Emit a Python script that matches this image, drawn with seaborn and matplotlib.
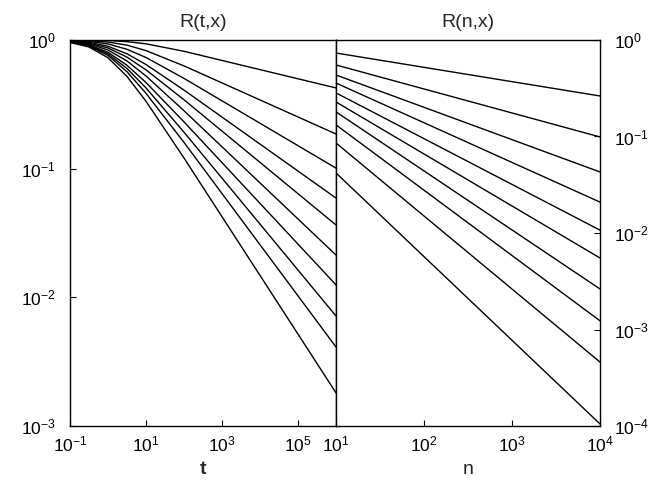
import matplotlib
matplotlib.use('Agg')
import matplotlib.pyplot as plt
import numpy as np
import pandas as pd
import seaborn as sns

sns.set_style('ticks')
plt.rcParams['font.family'] = ['Liberation Sans', 'DejaVu Sans']
plt.rcParams['mathtext.fontset'] = 'custom'
plt.rcParams['mathtext.rm'] = 'Liberation Sans'
plt.rcParams['mathtext.it'] = 'Liberation Sans:italic'
plt.rcParams['mathtext.bf'] = 'Liberation Sans:bold'

# left panel: R(t,x), one row per curve, values read at t_vals
t_vals = [0.1, 0.316, 1, 3.16, 10, 100, 1e6]
r_tx = [
    [0.999, 0.997, 0.990, 0.971, 0.934, 0.817, 0.424],
    [0.996, 0.987, 0.964, 0.912, 0.827, 0.629, 0.186],
    [0.992, 0.975, 0.932, 0.847, 0.731, 0.503, 0.101],
    [0.986, 0.959, 0.894, 0.781, 0.645, 0.408, 0.0591],
    [0.982, 0.947, 0.867, 0.736, 0.586, 0.343, 0.0365],
    [0.976, 0.933, 0.836, 0.687, 0.525, 0.282, 0.0213],
    [0.970, 0.917, 0.803, 0.636, 0.467, 0.231, 0.0125],
    [0.967, 0.906, 0.780, 0.601, 0.424, 0.192, 0.00716],
    [0.963, 0.897, 0.759, 0.567, 0.385, 0.160, 0.00411],
    [0.957, 0.882, 0.728, 0.521, 0.334, 0.121, 0.00181],
]

# right panel: R(n,x), start and end values of each curve
n_vals = [10, 1e4]
r_nx_start = [0.733, 0.551, 0.434, 0.358, 0.283, 0.228, 0.180, 0.132, 0.0857, 0.0419]
r_nx_end = [0.263, 0.0989, 0.0429, 0.0209, 0.0107, 0.00551, 0.00263, 0.00123, 0.00046, 0.000105]

left = pd.DataFrame(
    [(t, r, i) for i, curve in enumerate(r_tx) for t, r in zip(t_vals, curve)],
    columns=['t', 'R', 'curve'])
right = pd.DataFrame(
    [(n, r, i) for i, (a, b) in enumerate(zip(r_nx_start, r_nx_end)) for n, r in zip(n_vals, [a, b])],
    columns=['n', 'R', 'curve'])

fig = plt.figure(figsize=(6.63, 4.8), dpi=100)
ax1 = fig.add_axes([70 / 663, 54 / 480, 266 / 663, 386 / 480])
ax2 = fig.add_axes([336 / 663, 54 / 480, 264 / 663, 386 / 480])

for ax in (ax1, ax2):
    ax.set_xscale('log')
    ax.set_yscale('log')

sns.lineplot(data=left, x='t', y='R', units='curve', estimator=None, color='black',
             lw=1, ax=ax1, sort=False)
sns.lineplot(data=right, x='n', y='R', units='curve', estimator=None, color='black',
             lw=1, ax=ax2, sort=False)

ax1.set_xlim(0.1, 1e6)
ax1.set_ylim(1e-3, 1)
ax2.set_xlim(10, 1e4)
ax2.set_ylim(1e-4, 1)

ax1.set_xticks([0.1, 10, 1e3, 1e5])
ax1.set_xticklabels([r'$10^{-1}$', r'$10^{1}$', r'$10^{3}$', r'$10^{5}$'])
ax1.set_yticks([1e-3, 1e-2, 1e-1, 1])
ax1.set_yticklabels([r'$10^{-3}$', r'$10^{-2}$', r'$10^{-1}$', r'$10^{0}$'])
ax2.set_xticks([10, 100, 1e3, 1e4])
ax2.set_xticklabels([r'$10^{1}$', r'$10^{2}$', r'$10^{3}$', r'$10^{4}$'])
ax2.set_yticks([1e-4, 1e-3, 1e-2, 1e-1, 1])
ax2.set_yticklabels([r'$10^{-4}$', r'$10^{-3}$', r'$10^{-2}$', r'$10^{-1}$', r'$10^{0}$'])
ax2.yaxis.tick_right()

for ax in (ax1, ax2):
    ax.minorticks_off()
    ax.tick_params(direction='in', length=4, width=0.8, labelsize=12.5, pad=6, colors='black')
    for s in ax.spines.values():
        s.set_visible(True)
        s.set_color('black')
        s.set_linewidth(1)
ax1.tick_params(axis='y', pad=10)
ax2.tick_params(axis='y', pad=10)

ax1.set_title('R(t,x)', fontsize=14, pad=9)
ax2.set_title('R(n,x)', fontsize=14, pad=9)
ax1.set_xlabel('t', fontsize=14, fontweight='bold', labelpad=5)
ax2.set_xlabel('n', fontsize=14, labelpad=5)
ax1.set_ylabel('')
ax2.set_ylabel('')

fig.savefig('out.png', dpi=100)
